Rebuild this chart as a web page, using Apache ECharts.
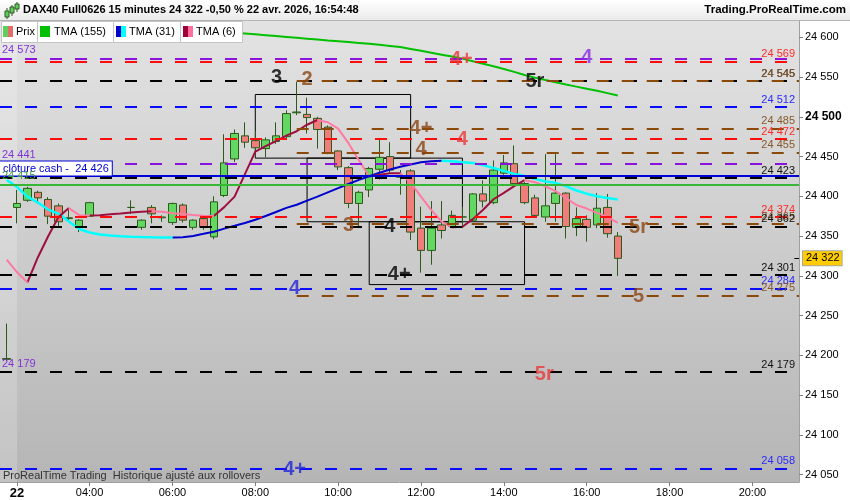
<!DOCTYPE html>
<html><head><meta charset="utf-8">
<script src="https://cdn.jsdelivr.net/npm/echarts@6/dist/echarts.min.js"></script>
<style>html,body{margin:0;padding:0;background:#fff}#c{width:850px;height:500px}</style>
</head><body><div id="c"></div>
<script>
const FONT = '"Liberation Sans", Arial, sans-serif';

// ---- axes ----
const X_MIN = -0.65, X_MAX = 76.5;          // bar-index range of the plot
const Y_MIN = 24040.8, Y_MAX = 24620.4;
const xTickBars   = [1, 8, 16, 24, 32, 40, 48, 56, 64, 72];
const xTickLabels = ['22','04:00','06:00','08:00','10:00','12:00','14:00','16:00','18:00','20:00'];
const yTicks = [24050,24100,24150,24200,24250,24300,24350,24400,24450,24500,24550,24600];

// ---- candles (bar index 0 = last bar of previous day) ----
const bars   = [0,1,2,3,4,5,6,7,8,12,13,14,15,16,17,18,19,20,21,22,23,24,25,26,27,28,29,30,31,32,33,34,35,36,37,38,39,40,41,42,43,44,45,46,47,48,49,50,51,52,53,54,55,56,57,58,59];
const opens  = [24196,24386,24395,24405,24396,24388,24373,24361,24375,24386,24361,24386,24373,24367,24389,24361,24372,24349,24401,24447,24476,24470,24460,24469,24475,24505,24503,24498,24487,24457,24436,24391,24408,24434,24450,24424,24432,24360,24332,24364,24362,24374,24370,24403,24392,24429,24441,24416,24398,24374,24391,24404,24361,24371,24364,24386,24350];
const closes = [24195,24391,24410,24398,24375,24368,24372,24370,24392,24386,24370,24378,24374,24391,24370,24370,24361,24393,24442,24479,24468,24461,24471,24476,24504,24506,24499,24484,24455,24437,24391,24405,24435,24449,24433,24425,24355,24332,24360,24357,24376,24374,24403,24394,24433,24442,24416,24392,24376,24388,24404,24362,24372,24361,24385,24353,24322];
const lows   = [24193,24366,24393,24391,24365,24362,24368,24355,24374,24378,24358,24366,24368,24364,24367,24358,24358,24346,24399,24443,24461,24449,24449,24466,24472,24502,24479,24460,24453,24433,24385,24362,24399,24421,24428,24402,24345,24304,24314,24347,24360,24360,24368,24386,24390,24427,24412,24390,24374,24368,24368,24347,24350,24343,24360,24348,24300];
const highs  = [24240,24408,24412,24407,24399,24391,24383,24371,24393,24395,24371,24389,24376,24392,24391,24371,24374,24400,24478,24484,24493,24482,24474,24493,24508,24544,24524,24500,24489,24458,24438,24407,24437,24472,24468,24433,24434,24387,24394,24394,24382,24387,24404,24420,24445,24452,24464,24418,24402,24453,24453,24405,24386,24376,24404,24403,24355];

// ---- moving averages, one value per bar 0..59 ----
const tma155 = [24619.2,24618.6,24618,24617.3,24616.7,24616.1,24615.5,24614.8,24614.2,24613.6,24613,24612.4,24611.7,24611.1,24610.5,24609.9,24609.2,24608.6,24608,24607.4,24606.7,24606.1,24605.5,24604.8,24603.7,24602.6,24601.5,24600.4,24599.3,24598.2,24597.1,24596,24595,24593.9,24592.8,24591.7,24590.4,24589,24587.6,24585.3,24582.9,24580.5,24578.1,24575.7,24573.1,24569.9,24566.6,24563.4,24560,24556.4,24552.6,24549.2,24546.2,24543.3,24540.5,24537.9,24535.3,24532.6,24529.7,24526.8];
const tma31 = [24420.5,24411.6,24399.6,24392.1,24383.3,24378.3,24368.3,24358.9,24354.5,24352,24350.7,24349.8,24349.2,24348.7,24348.4,24348.2,24348.1,24348.4,24350.2,24352.8,24355.5,24359.4,24362.9,24366.5,24370.5,24375.3,24380.2,24385.5,24389.4,24394.6,24399.6,24404.9,24410.2,24415.4,24420.6,24425.2,24429.7,24433.6,24437.2,24440,24442.7,24444.2,24444.8,24444.2,24442.8,24441.8,24439.2,24435.6,24432,24428.2,24425.5,24422.1,24418.7,24416.9,24412.8,24407.3,24403.3,24400.1,24397.8,24395.9];
const tma6 = [24320.5,24304.5,24291.7,24323.1,24349.8,24373.9,24385.2,24376.3,24376,24376.2,24377.3,24378.4,24379.6,24380.6,24381.2,24380.6,24378.8,24377.7,24376.4,24375.4,24375.2,24386.4,24399.6,24427.9,24456.1,24463.1,24469.3,24476.2,24481.8,24490,24495.9,24493.1,24485,24466.8,24445.4,24425,24427.2,24428.9,24429.1,24417.2,24399.6,24382.7,24368.3,24361,24361.8,24371.3,24383,24396.3,24404.2,24412.7,24420.2,24417.8,24412.6,24406.5,24397.6,24389.1,24384.6,24379.2,24374.2,24366.6];

// ---- horizontal levels ----
const levelPrice   = [24573,24569,24545,24545,24512,24485,24472,24455,24441,24426,24423,24415,24374,24365,24362,24301,24284,24275,24179,24179,24058];
const levelKind    = ['purple','red','black','brown','blue','brown','red','brown','purple','cash','black','green','red','brown','black','black','blue','brown','purple','black','blue'];
const levelFromBar = [null,null,null,28,null,28,null,28,null,null,null,null,null,28,null,null,null,28,null,null,null];
const levelLabel   = ['left','right','right','right','right','right','right','right','left','cash','right','left','right','right','right','right','right','right','left','right','right'];
const cashText = 'clôture cash -  24 426';

// ---- boxes ----
const boxFromBar = [24, 29, 35];
const boxToBar   = [39, 44, 50];
const boxTop     = [24528, 24448, 24368];
const boxBottom  = [24448, 24368, 24289];

// ---- annotations ----
const noteText  = ['3','2','4+','4','5r','4+','4','4','3','4','5r','4+','4','5','5r','4+'];
const noteBar   = [26.05,29.0,43.9,56.0,51.0,40.0,44.0,40.0,33.0,37.0,61.0,37.9,27.8,61.0,51.9,27.8];
const notePrice = [24549.5,24547,24571.5,24574,24544,24485.6,24471.8,24458.6,24363,24362.6,24361.4,24301.2,24284,24274,24176.5,24056];
const noteKind  = ['black','brown','red','purple','black','brown','red','brown','brown','black','brown','black','blue','brown','red','blue'];

// ---- styles ----
const LINE_COLOR = {purple:'#8a14dc', red:'#ff0d0d', black:'#000000', brown:'#8b4a0a', blue:'#0a0aff', cash:'#0000d8', green:'#36b836'};
const LABEL_COLOR = {purple:'#8233d6', red:'#ff2a2a', black:'#111111', brown:'#86592c', blue:'#2a2aff', cash:'#0000d8', green:'#3a9c3a'};
const NOTE_COLOR = {black:'#000000', brown:'#8b4513', red:'#e83a3a', purple:'#8a2be2', blue:'#2424d8'};

function fmt(v){ const s = String(Math.round(v)); return s.slice(0, s.length-3) + ' ' + s.slice(-3); }

function splitDir(arr){
  const up = arr.map(()=>null), down = arr.map(()=>null);
  for (let i=1;i<arr.length;i++){
    const t = arr[i] > arr[i-1] ? up : down;
    t[i-1] = arr[i-1]; t[i] = arr[i];
  }
  return {up: up.map((v,i)=>[i,v]), down: down.map((v,i)=>[i,v])};
}
const t31 = splitDir(tma31), t6 = splitDir(tma6);

const candleData = bars.map((b,i)=>[b, opens[i], closes[i], lows[i], highs[i]]);

const levelLines = levelPrice.map((p,i)=>{
  const k = levelKind[i];
  const solid = (k==='cash'||k==='green');
  const side = levelLabel[i];
  let label;
  if (side==='right') label = {show:true, position:'insideEndTop', distance:[4,2], formatter: fmt(p), color: LABEL_COLOR[k], fontSize:11, fontFamily:FONT};
  else if (side==='left') label = {show:true, position:'insideStartTop', distance:[2,3], formatter: fmt(p), color: LABEL_COLOR[k], fontSize:11, fontFamily:FONT};
  else label = {show:true, position:'insideStartTop', distance:[0,0], formatter: cashText, color: LABEL_COLOR[k], fontSize:11, fontFamily:FONT,
                backgroundColor:'#ffffff', borderColor:'#0000d8', borderWidth:1, padding:[2,3,1,3]};
  return [
    {coord:[levelFromBar[i]==null ? X_MIN : levelFromBar[i], p],
     lineStyle:{color: LINE_COLOR[k], width:2, type: solid ? 'solid' : [12,13], opacity:1},
     label: label},
    {coord:[X_MAX, p]}
  ];
});

const boxAreas = boxFromBar.map((b,i)=>[{coord:[b, boxTop[i]]},{coord:[boxToBar[i], boxBottom[i]]}]);

const notes = noteText.map((t,i)=>({name:t, value:[noteBar[i], notePrice[i]], label:{color: NOTE_COLOR[noteKind[i]]}}));

const lastClose = closes[closes.length-1];

// ---- header graphics ----
const legendItems = [
  {text:'Prix', colors:['#5ccf5c','#e66a6a'], x:1, w:36, pad:2},
  {text:'TMA (155)', colors:['#00c000'], x:37, w:76, pad:3},
  {text:'TMA (31)', colors:['#0000cc','#00ffff'], x:113, w:67, pad:3},
  {text:'TMA (6)', colors:['#a0003a','#ff6e9c'], x:180, w:62, pad:3}
];
const graphics = [
  {type:'rect', left:0, top:0, shape:{width:850, height:21}, z:100,
   style:{fill:{type:'linear',x:0,y:0,x2:0,y2:1,colorStops:[{offset:0,color:'#ffffff'},{offset:1,color:'#e9e9e9'}]}}},
  {type:'line', shape:{x1:0,y1:20.5,x2:850,y2:20.5}, z:101, style:{stroke:'#b4b4b4', lineWidth:1}},
  // title icon
  {type:'line', shape:{x1:7,y1:8,x2:7,y2:19}, z:101, style:{stroke:'#2d5a1e',lineWidth:1}},
  {type:'rect', shape:{x:5,y:11,width:4,height:6}, z:102, style:{fill:'#5ccf5c',stroke:'#2d5a1e',lineWidth:1}},
  {type:'line', shape:{x1:12,y1:5,x2:12,y2:16}, z:101, style:{stroke:'#2d5a1e',lineWidth:1}},
  {type:'rect', shape:{x:10,y:7,width:4,height:6}, z:102, style:{fill:'#5ccf5c',stroke:'#2d5a1e',lineWidth:1}},
  {type:'line', shape:{x1:17,y1:2,x2:17,y2:12}, z:101, style:{stroke:'#2d5a1e',lineWidth:1}},
  {type:'rect', shape:{x:15,y:4,width:4,height:5}, z:102, style:{fill:'#5ccf5c',stroke:'#2d5a1e',lineWidth:1}},
  {type:'text', left:23, top:4, z:102, style:{text:'DAX40 Full0626 15 minutes 24 322 -0,50 % 22 avr. 2026, 16:54:48', font:'bold 11px '+FONT, fill:'#000'}},
  {type:'text', right:4, top:4, z:102, style:{text:'Trading.ProRealTime.com', font:'bold 11.5px '+FONT, fill:'#000'}},
  {type:'text', left:3, top:470, z:102, style:{text:'ProRealTime Trading  Historique ajusté aux rollovers', font:'11px '+FONT, fill:'#333'}}
];
legendItems.forEach(it=>{
  graphics.push({type:'rect', shape:{x:it.x+0.5, y:21.5, width:it.w, height:21}, z:100, style:{fill:'#ffffff', stroke:'#c4c4c4', lineWidth:1}});
  const bw = it.colors.length===1 ? 10 : 5;
  it.colors.forEach((c,j)=>graphics.push({type:'rect', shape:{x:it.x+it.pad+j*bw, y:26, width:bw, height:11}, z:101, style:{fill:c}}));
  graphics.push({type:'text', x: it.x+it.pad+it.colors.length*bw+ (it.colors.length===1?4:3), y:32, z:101,
    style:{text:it.text, font:'11px '+FONT, fill:'#000', textVerticalAlign:'middle', verticalAlign:'middle'}});
});

const chart = echarts.init(document.getElementById('c'));
chart.setOption({
  animation:false,
  backgroundColor:'#ffffff',
  textStyle:{fontFamily:FONT},
  grid:{left:0, right:51, top:21, bottom:17, show:true, borderWidth:0,
    backgroundColor:{type:'linear',x:0,y:0,x2:0,y2:1,colorStops:[{offset:0,color:'#e3e3e3'},{offset:1,color:'#b5b5b5'}]}},
  xAxis:{type:'value', min:X_MIN, max:X_MAX, splitLine:{show:false},
    axisLine:{show:true, onZero:false, lineStyle:{color:'#a0a0a0'}},
    axisTick:{show:true, length:4, customValues:xTickBars, lineStyle:{color:'#808080'}},
    axisLabel:{customValues:xTickBars, margin:5, fontSize:11, color:'#000', fontFamily:FONT,
      formatter:(v)=>{ const i = xTickBars.indexOf(Math.round(v)); if (i<0) return ''; return i===0 ? '{d|'+xTickLabels[i]+'}' : xTickLabels[i]; },
      rich:{d:{fontWeight:'bold', fontSize:13, fontFamily:FONT, color:'#000'}}}},
  yAxis:{type:'value', position:'right', min:Y_MIN, max:Y_MAX, splitLine:{show:false},
    axisLine:{show:true, onZero:false, lineStyle:{color:'#a0a0a0'}},
    axisTick:{show:true, length:4, customValues:yTicks, lineStyle:{color:'#808080'}},
    axisLabel:{customValues:yTicks, margin:6, fontSize:11, color:'#000', fontFamily:FONT,
      formatter:(v)=> v===24500 ? '{b|'+fmt(v)+'}' : fmt(v),
      rich:{b:{fontWeight:'bold', fontSize:12, fontFamily:FONT, color:'#000'}}}},
  graphic: graphics,
  series:[
    {type:'line', name:'band', data:[], z:1, silent:true,
     markArea:{silent:true, itemStyle:{color:'rgba(255,255,255,0.2)'}, label:{show:false},
       data:[[{coord:[X_MIN, Y_MIN]},{coord:[1, Y_MAX]}]]}},
    {type:'candlestick', name:'Prix', data:candleData, z:2, barWidth:8, clip:true,
     itemStyle:{color:'#62d862', color0:'#f07c7c', borderColor:'#2b5a1b', borderColor0:'#2b5a1b', borderWidth:1}},
    {type:'line', name:'levels', data:[], z:3, silent:true,
     markLine:{silent:true, symbol:['none','none'], animation:false, data: levelLines},
     markArea:{silent:true, label:{show:false}, itemStyle:{color:'rgba(0,0,0,0)', borderColor:'#000', borderWidth:1}, data: boxAreas}},
    {type:'line', name:'TMA (155)', data: tma155.map((v,i)=>[i,v]), symbol:'none', z:4, lineStyle:{color:'#00c000', width:2}},
    {type:'line', name:'TMA (31) up', data: t31.up, symbol:'none', z:4, lineStyle:{color:'#0000cc', width:2}},
    {type:'line', name:'TMA (31) down', data: t31.down, symbol:'none', z:4, lineStyle:{color:'#00ffff', width:2.5}},
    {type:'line', name:'TMA (6) up', data: t6.up, symbol:'none', z:4, lineStyle:{color:'#9e0f3f', width:2}},
    {type:'line', name:'TMA (6) down', data: t6.down, symbol:'none', z:4, lineStyle:{color:'#ff7aa2', width:2}},
    {type:'scatter', name:'notes', data: notes, symbolSize:0, z:5, silent:true,
     label:{show:true, position:'inside', formatter:'{b}', fontSize:20, fontWeight:'bold', fontFamily:FONT}},
    {type:'line', name:'last', data:[], z:6, silent:true,
     markLine:{silent:true, symbol:['none','none'], animation:false,
       data:[[{coord:[X_MAX-0.45, lastClose], lineStyle:{color:'#000000', width:1, type:'solid'},
         label:{show:true, position:'end', distance:4, formatter: fmt(lastClose), color:'#000', fontSize:11, fontFamily:FONT,
                backgroundColor:'#ffcc00', borderColor:'#a8a8a8', borderWidth:1, padding:[2,2,1,3]}},
              {coord:[X_MAX, lastClose]}]]}}
  ]
});
</script></body></html>
